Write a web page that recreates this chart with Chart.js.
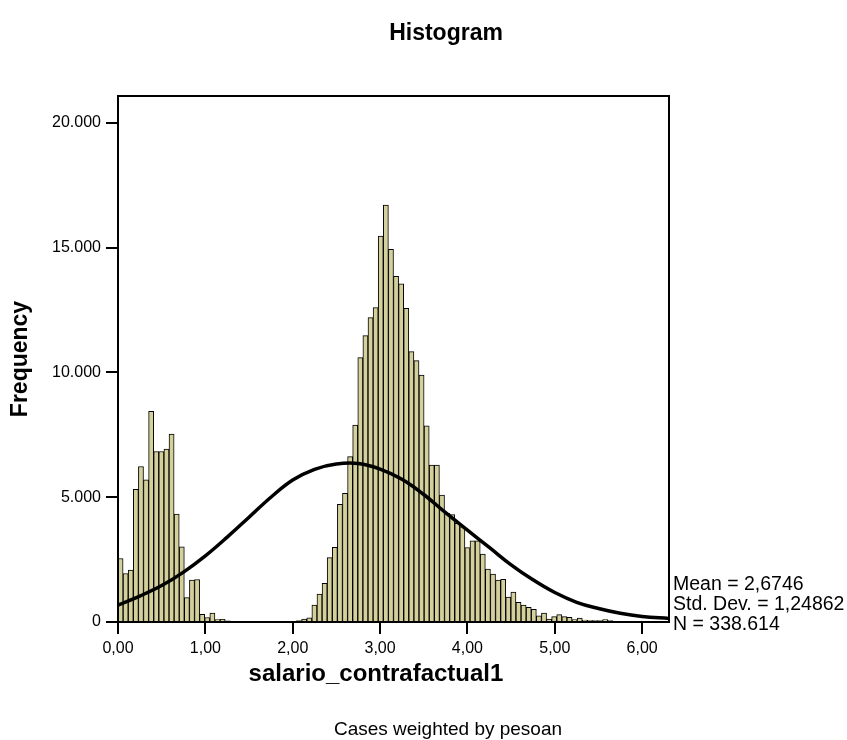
<!DOCTYPE html>
<html>
<head>
<meta charset="utf-8">
<title>Histogram</title>
<script src="https://cdn.jsdelivr.net/npm/chart.js@4"></script>
<style>
  body { margin: 0; background: #fff; }
  #wrap { position: relative; width: 847px; height: 740px; font-family: Arial, "Liberation Sans", sans-serif; color: #000; }
  #chart { position: absolute; left: 0; top: 0; display: block; }
  .lbl { position: absolute; white-space: nowrap; line-height: 1; transform: translate(-50%, -50%); }
  #title { left: 446px; top: 32px; font-size: 23px; font-weight: bold; }
  #xtitle { left: 376px; top: 673px; font-size: 24px; font-weight: bold; }
  #note { left: 448px; top: 728px; font-size: 19px; }
  #stats { position: absolute; left: 673px; top: 573px; font-size: 19.5px; line-height: 20px; white-space: nowrap; }
</style>
</head>
<body>
<div id="wrap">
  <canvas id="chart" width="847" height="740"></canvas>
  <div class="lbl" id="title">Histogram</div>
  <div class="lbl" id="xtitle">salario_contrafactual1</div>
  <div class="lbl" id="note">Cases weighted by pesoan</div>
  <div id="stats"></div>
</div>
<script>
// ─── DATA ─────────────────────────────────────────────────────────────────────
const binWidth = 0.0584

// frequency per bin (bins start at 0,00)
const binCounts = [
  2546, 1943, 2077, 5320, 6231, 5695, 8442, 6834, 6834, 6928,
  7531, 4328, 3015,  978, 1675, 1702,  310,  180,  360,  100,
   110,   50,   30,   20,   40,   20,   15,   30,   40,   25,
    15,   20,   40,   30,   20,   60,  120,  170,  681, 1122,
  1550, 2578, 2993, 4716, 5157, 6627, 7896, 10595, 11476, 12198,
  12599, 15471, 16713, 14937, 13850, 13550, 12570, 10834, 10474, 9900,
  7860, 6293, 6293, 5090, 4357, 4300, 3950, 3820, 2980, 3250,
  3250, 2720, 2120, 1920, 1680, 1710, 1000, 1200,  790,  675,
   590,  510,  250,  360,  120,  214,  294,  214,  187,   94,
   160,   80,   67,   55,   55,   94,   55,   40,   30,   15,
    10,   20,   10,    5,    5,    5,    3,    3
]

// normal curve
const curveX = [0, 0.25, 0.5, 0.75, 1, 1.25, 1.5, 1.75, 2, 2.25, 2.5, 2.75, 3, 3.25, 3.5,
                3.75, 4, 4.25, 4.5, 4.75, 5, 5.25, 5.5, 5.75, 6, 6.31]
const curveY = [680, 1040, 1460, 2000, 2650, 3400, 4200, 5000, 5690, 6120, 6330, 6350, 6130, 5720, 5110,
                4380, 3680, 2990, 2290, 1690, 1180, 790, 540, 350, 225, 140]

const yTickValues = [0, 5000, 10000, 15000, 20000]
const yTickLabels = ["0", "5.000", "10.000", "15.000", "20.000"]
const xTickValues = [0, 1, 2, 3, 4, 5, 6]
const xTickLabels = ["0,00", "1,00", "2,00", "3,00", "4,00", "5,00", "6,00"]
const statLines   = ["Mean = 2,6746", "Std. Dev. = 1,24862", "N = 338.614"]

const yMax = 21080
const xMax = binCounts.length * binWidth
const binLabels = binCounts.map((_, i) => (i * binWidth).toFixed(3))

// ─── STATS BOX ────────────────────────────────────────────────────────────────
document.getElementById("stats").innerHTML = statLines.map(s => `<div>${s}</div>`).join("")

// ─── CHART ────────────────────────────────────────────────────────────────────
Chart.defaults.font.family = 'Arial, "Liberation Sans", sans-serif'
Chart.defaults.color = "#000"

// black box round the plot area
const frame = {
  id: "frame",
  afterDatasetsDraw(chart) {
    const { ctx, chartArea: a } = chart
    ctx.save()
    ctx.strokeStyle = "#000"
    ctx.lineWidth = 2
    ctx.strokeRect(a.left, a.top, a.right - a.left, a.bottom - a.top)
    ctx.restore()
  }
}

// histogram bars fill their whole bin, no gaps
const binFill = {
  id: "binFill",
  afterLayout(chart) {
    const a = chart.chartArea
    chart.data.datasets[1].barThickness = (a.right - a.left) / binCounts.length
  }
}

const axisGrid = { drawOnChartArea: false, drawTicks: true, tickLength: 12, color: "#000", lineWidth: 2, offset: false }

new Chart(document.getElementById("chart"), {
  type: "bar",
  data: {
    labels: binLabels,
    datasets: [
      {
        type: "line",
        data: curveX.map((x, i) => ({ x, y: curveY[i] })),
        xAxisID: "xl",
        borderColor: "#000",
        borderWidth: 3.5,
        pointRadius: 0,
        tension: 0.4,
        fill: false,
        order: 0,
      },
      {
        type: "bar",
        data: binCounts,
        xAxisID: "x",
        backgroundColor: "#d4d09c",
        borderColor: "#000",
        borderWidth: 1,
        grouped: false,
        barPercentage: 1,
        categoryPercentage: 1,
        order: 1,
      },
    ],
  },
  options: {
    responsive: false,
    animation: false,
    devicePixelRatio: 1,
    layout: { padding: { left: 0, right: 178, top: 96, bottom: 78 } },
    plugins: { legend: { display: false }, tooltip: { enabled: false } },
    scales: {
      x: { type: "category", display: false, offset: true },
      xl: {
        type: "linear",
        position: "bottom",
        offset: false,
        min: 0,
        max: xMax,
        grid: axisGrid,
        border: { color: "#000", width: 2 },
        afterBuildTicks: s => { s.ticks = xTickValues.map(v => ({ value: v })) },
        afterFit: s => { s.height = 40 },
        ticks: {
          autoSkip: false,
          maxRotation: 0,
          padding: 5,
          font: { size: 16 },
          callback: (v, i) => xTickLabels[i],
        },
      },
      y: {
        min: 0,
        max: yMax,
        grid: axisGrid,
        border: { color: "#000", width: 2 },
        afterBuildTicks: s => { s.ticks = yTickValues.map(v => ({ value: v })) },
        afterFit: s => { s.width = 118 },
        title: {
          display: true,
          text: "Frequency",
          font: { size: 23, weight: "bold" },
          padding: { top: 7, bottom: 0 },
        },
        ticks: {
          padding: 5,
          font: { size: 16 },
          callback: (v, i) => yTickLabels[i],
        },
      },
    },
  },
  plugins: [frame, binFill],
})
</script>
</body>
</html>
